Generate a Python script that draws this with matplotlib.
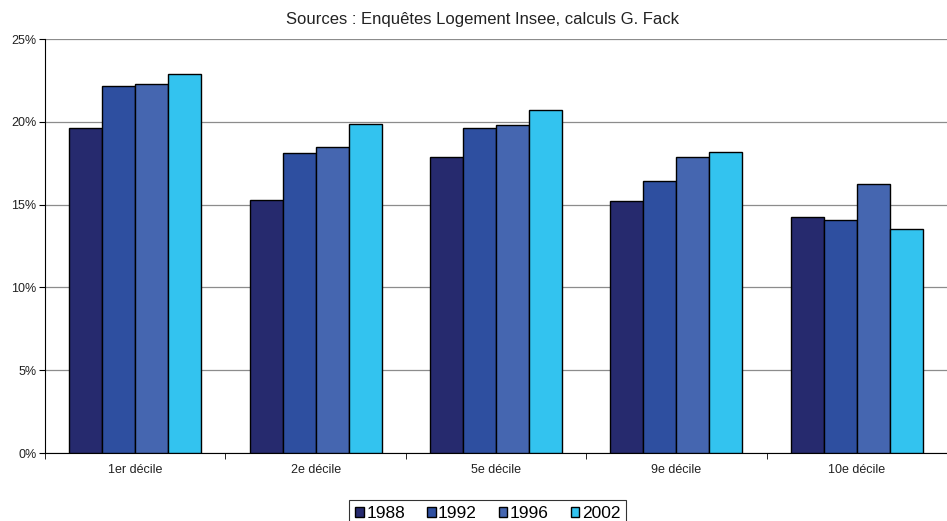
import matplotlib
matplotlib.use("Agg")
import matplotlib.pyplot as plt
import numpy as np
from matplotlib.patches import Patch

plt.rcParams["font.family"] = ["Liberation Sans", "DejaVu Sans"]

categories = ["1er décile", "2e décile", "5e décile", "9e décile", "10e décile"]
years = ["1988", "1992", "1996", "2002"]
v1988 = [19.6, 15.3, 17.9, 15.2, 14.25]
v1992 = [22.15, 18.1, 19.6, 16.4, 14.1]
v1996 = [22.3, 18.5, 19.8, 17.85, 16.25]
v2002 = [22.9, 19.9, 20.7, 18.15, 13.5]
series = [v1988, v1992, v1996, v2002]
colors = ["#262A6E", "#2E4FA0", "#4566B0", "#33C3EF"]
yticks = [0, 5, 10, 15, 20, 25]

fig = plt.figure(figsize=(9.47, 5.21), dpi=100)
ax = fig.add_axes([0.0475, 0.1305, 0.9525, 0.7945])

n = len(categories)
x = np.arange(n)
w = 0.183
for i, (vals, c) in enumerate(zip(series, colors)):
    ax.bar(x + (i - 1.5) * w, vals, width=w, color=c, edgecolor="black",
           linewidth=1.0, zorder=3, label=years[i])

ax.set_xlim(-0.5, n - 0.5)
ax.set_ylim(0, 25)
ax.set_yticks(yticks)
ax.set_yticklabels([f"{t}%" for t in yticks], fontsize=9, color="#222222")
ax.yaxis.grid(True, color="#8c8c8c", linewidth=0.9, zorder=0)
ax.set_xticks(x)
ax.set_xticklabels(categories, fontsize=9, color="#222222")
ax.tick_params(axis="x", length=0, pad=8)
ax.set_xticks(np.arange(n + 1) - 0.5, minor=True)
ax.tick_params(axis="x", which="minor", length=4, direction="out", color="black")
ax.tick_params(axis="y", length=4, direction="out", color="black", pad=2)
for s in ["top", "right"]:
    ax.spines[s].set_visible(False)
ax.spines["left"].set_color("black")
ax.spines["bottom"].set_color("black")

fig.text(0.51, 0.963, "Sources : Enquêtes Logement Insee, calculs G. Fack",
         ha="center", va="center", fontsize=12, color="#222222")

handles = [Patch(facecolor=c, edgecolor="black", label=y) for c, y in zip(colors, years)]
leg = fig.legend(handles=handles, loc="upper center", bbox_to_anchor=(0.515, 0.041),
                 ncol=4, fontsize=12.5, frameon=True, fancybox=False,
                 handlelength=0.5, handleheight=0.5, handletextpad=0.15,
                 columnspacing=1.25, borderpad=0.35, borderaxespad=0.0,
                 edgecolor="black")
leg.get_frame().set_linewidth(0.8)

fig.savefig("out.png", dpi=100)
